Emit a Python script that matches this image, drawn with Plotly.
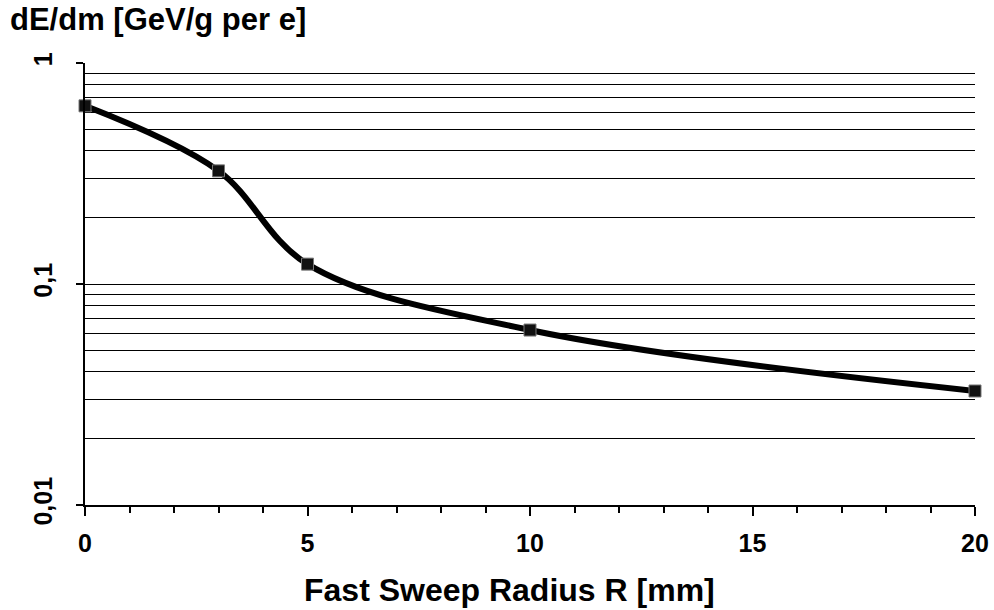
import plotly.graph_objects as go

# Data
radius_mm = [0, 3, 5, 10, 20]
dedm = [0.64, 0.325, 0.123, 0.0619, 0.0328]

y_major_vals = [0.01, 0.1, 1]
y_major_text = ["0,01", "0,1", "1"]
y_minor_vals = [0.02, 0.03, 0.04, 0.05, 0.06, 0.07, 0.08, 0.09,
                0.2, 0.3, 0.4, 0.5, 0.6, 0.7, 0.8, 0.9]
x_major_vals = [0, 5, 10, 15, 20]

FONT = "Arial, 'Liberation Sans', sans-serif"
W, H = 994, 610
ML, MR, MT, MB = 85, 19, 63, 105
PW = W - ML - MR
PH = H - MT - MB

fig = go.Figure()
fig.add_trace(go.Scatter(
    x=radius_mm, y=dedm,
    mode="lines+markers",
    line=dict(color="black", width=6, shape="spline", smoothing=1),
    marker=dict(symbol="square", size=12, color="#111111",
                line=dict(color="#777777", width=1)),
    cliponaxis=False,
    showlegend=False,
))

fig.update_layout(
    width=W, height=H,
    margin=dict(l=ML, r=MR, t=MT, b=MB, autoexpand=False),
    paper_bgcolor="white", plot_bgcolor="white",
    font=dict(family=FONT, color="black"),
    title=dict(text="dE/dm [GeV/g per e]", x=10/W, xanchor="left",
               xref="container", y=1-8/H, yanchor="top", yref="container",
               font=dict(size=31, weight="bold", family=FONT, color="black")),
)

fig.add_annotation(
    text="Fast Sweep Radius R [mm]",
    xref="paper", yref="paper",
    x=(509 - ML) / PW, xanchor="center",
    y=-(590 - (MT + PH)) / PH, yanchor="middle",
    showarrow=False,
    font=dict(size=32, weight="bold", family=FONT, color="black"),
)

fig.update_xaxes(
    range=[0, 20],
    tickmode="array", tickvals=x_major_vals,
    ticks="outside", ticklen=9, tickwidth=2, tickcolor="black",
    tickfont=dict(size=25, weight="bold", family=FONT, color="black"),
    ticklabelstandoff=6, ticklabeloverflow="allow", automargin=False,
    minor=dict(dtick=1, ticks="outside", ticklen=6, tickwidth=2,
               tickcolor="black", showgrid=False),
    showgrid=False, zeroline=False,
    showline=True, linecolor="black", linewidth=2,
)

fig.update_yaxes(
    type="log", range=[-2, 0],
    tickmode="array", tickvals=y_major_vals, ticktext=y_major_text,
    tickangle=-90, automargin=False,
    ticks="outside", ticklen=7, tickwidth=2, tickcolor="black",
    tickfont=dict(size=25, weight="bold", family=FONT, color="black"),
    ticklabelstandoff=14,
    showgrid=True, gridcolor="black", gridwidth=1,
    minor=dict(tickmode="array", tickvals=y_minor_vals, ticks="",
               showgrid=True, gridcolor="black", gridwidth=1),
    zeroline=False,
    showline=True, linecolor="black", linewidth=2,
)

fig.write_html("out.html")
